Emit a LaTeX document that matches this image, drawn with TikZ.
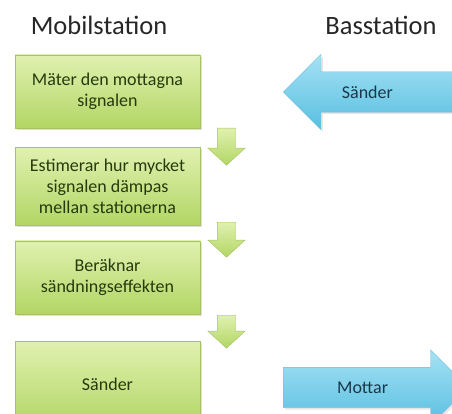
\documentclass[tikz,border=0pt]{standalone}
\usepackage{fontspec}
\setmainfont{Carlito}
\usetikzlibrary{positioning,shapes.arrows,shadows}

\definecolor{boxtop}{RGB}{224,241,176}
\definecolor{boxbot}{RGB}{178,214,100}
\definecolor{boxline}{RGB}{165,195,100}
\definecolor{boxtext}{RGB}{38,58,12}
\definecolor{bluetop}{RGB}{165,226,244}
\definecolor{bluebot}{RGB}{88,191,225}
\definecolor{blueline}{RGB}{110,185,215}
\definecolor{bluetext}{RGB}{26,56,74}

\begin{document}
\begin{tikzpicture}[
x=1pt, y=-1pt,
title/.style={font=\fontsize{26.5}{30}\selectfont, text=black!85},
stepbox/.style={draw=boxline, top color=boxtop, bottom color=boxbot, text=boxtext, align=center,
  minimum width=185pt, font=\fontsize{18}{21}\selectfont,
  drop shadow={opacity=0.25, shadow xshift=2pt, shadow yshift=-2pt}},
downarrow/.style={single arrow, shape border rotate=270, draw=boxline, top color=boxtop, bottom color=boxbot,
  single arrow head extend=9.5pt, single arrow tip angle=95, inner sep=9pt, anchor=tail},
sendarrow/.style={single arrow, draw=blueline, top color=bluetop, bottom color=bluebot,
  single arrow head extend=17.5pt, inner xsep=0pt, inner ysep=20pt,
  drop shadow={opacity=0.2, shadow xshift=2pt, shadow yshift=-2pt}},
sendtext/.style={text=bluetext, font=\fontsize{18}{21}\selectfont}
]
\clip (0,0) rectangle (452,414);

\node[title] (mobil) at (99,25) {Mobilstation};
\node[title] (bas) at (381,25) {Basstation};

\node[stepbox, minimum height=73pt] (mater) at (107.5,91.5) {Mäter den mottagna\\signalen};
\node[stepbox, minimum height=78pt, below=19pt of mater] (estimerar) {Estimerar hur mycket\\signalen dämpas\\mellan stationerna};
\node[stepbox, minimum height=73pt, below=15pt of estimerar] (beraknar) {Beräknar\\sändningseffekten};
\node[stepbox, minimum height=86pt, below=27pt of beraknar] (sander) {Sänder};

\node[downarrow, minimum height=37pt] (pil1) at (226.5,128) {};
\node[downarrow, minimum height=35pt] (pil2) at (226.5,222) {};
\node[downarrow, minimum height=33pt] (pil3) at (226.5,315) {};

\node[sendarrow, shape border rotate=180, minimum height=180pt, anchor=tip,
  label={[sendtext, xshift=-16pt]center:Sänder}] (bassander) at (283,92) {};
\node[sendarrow, minimum height=185pt, anchor=tail,
  label={[sendtext, xshift=-3pt]center:Mottar}] (basmottar) at (283,387.5) {};

\end{tikzpicture}
\end{document}
